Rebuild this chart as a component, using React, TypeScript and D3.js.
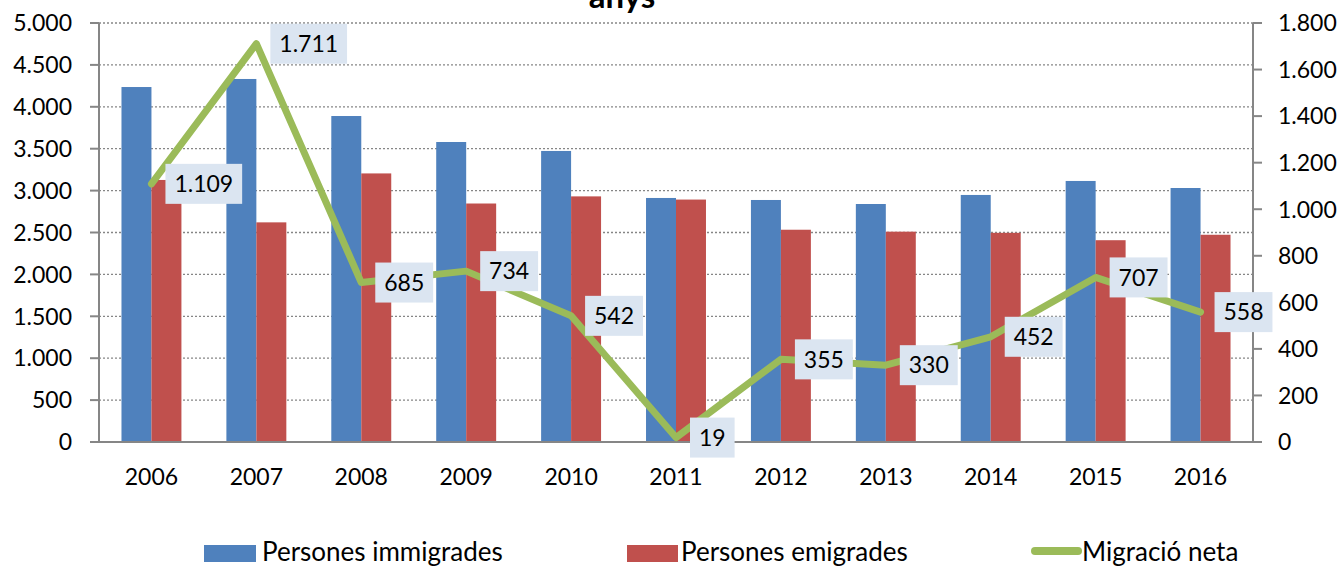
import React from "react";
import * as d3 from "d3";

// dades (llegides del gràfic)
const years = ["2006", "2007", "2008", "2009", "2010", "2011", "2012", "2013", "2014", "2015", "2016"];
const immigrades = [4236, 4332, 3890, 3580, 3473, 2912, 2888, 2840, 2948, 3115, 3031];
const emigrades = [3127, 2621, 3205, 2846, 2931, 2893, 2533, 2510, 2496, 2408, 2473];
const netaMigracio = [1109, 1711, 685, 734, 542, 19, 355, 330, 452, 707, 558];
const leftTicks = [0, 500, 1000, 1500, 2000, 2500, 3000, 3500, 4000, 4500, 5000];
const rightTicks = [0, 200, 400, 600, 800, 1000, 1200, 1400, 1600, 1800];
const seriesNames = ["Persones immigrades", "Persones emigrades", "Migració neta"];

const BLUE = "#4F81BD";
const RED = "#C0504D";
const GREEN = "#9BBB59";
const AXIS = "#868686";
const FONT = "Lato, 'Noto Sans', sans-serif";

const fmt = (v: number) => d3.format(",")(v).replace(/,/g, ".");

export default function App() {
  const width = 1341,
    height = 568;
  const left = 99,
    right = 1253,
    top = 23,
    bottom = 442;

  const x0 = d3
    .scaleBand()
    .domain(years)
    .range([left, right])
    .paddingInner(0.4286)
    .paddingOuter(0.2143);
  const x1 = d3.scaleBand().domain(["imm", "emi"]).range([0, x0.bandwidth()]);
  const yL = d3.scaleLinear().domain([0, 5000]).range([bottom, top]);
  const yR = d3.scaleLinear().domain([0, 1800]).range([bottom, top]);

  const cx = (y: string) => (x0(y) as number) + x0.bandwidth() / 2;

  const line = d3
    .line<number>()
    .x((_, i) => cx(years[i]))
    .y((d) => yR(d));

  // amplada aproximada del text de les etiquetes
  const labelWidth = (s: string) =>
    s.split("").reduce((a, c) => a + (c === "." ? 5.5 : 13.3), 0);

  return (
    <svg width={width} height={height} style={{ position: "absolute", left: 0, top: 0 }}>
      <rect width={width} height={height} fill="white" />

      {/* títol (tallat, com a l'original) */}
      <text x={622} y={8} textAnchor="middle" fontFamily={FONT} fontWeight="bold" fontSize={33}>
        anys
      </text>

      {/* graella */}
      {leftTicks.slice(1).map((t) => (
        <line
          key={"g" + t}
          x1={left}
          x2={right}
          y1={yL(t)}
          y2={yL(t)}
          stroke={AXIS}
          strokeWidth={1.3}
          strokeDasharray="2,2"
        />
      ))}

      {/* barres */}
      {years.map((yr, i) => (
        <g key={"b" + yr}>
          <rect
            x={(x0(yr) as number) + (x1("imm") as number)}
            y={yL(immigrades[i])}
            width={x1.bandwidth()}
            height={bottom - yL(immigrades[i])}
            fill={BLUE}
          />
          <rect
            x={(x0(yr) as number) + (x1("emi") as number)}
            y={yL(emigrades[i])}
            width={x1.bandwidth()}
            height={bottom - yL(emigrades[i])}
            fill={RED}
          />
        </g>
      ))}

      {/* eixos */}
      <line x1={left} x2={left} y1={top} y2={bottom} stroke={AXIS} strokeWidth={2} />
      <line x1={right} x2={right} y1={top} y2={bottom} stroke={AXIS} strokeWidth={2} />
      <line x1={left - 9} x2={right + 9} y1={bottom} y2={bottom} stroke={AXIS} strokeWidth={2} />
      {leftTicks.map((t) => (
        <g key={"l" + t}>
          <line x1={left - 9} x2={left} y1={yL(t)} y2={yL(t)} stroke={AXIS} strokeWidth={2} />
          <text
            x={72}
            y={yL(t)}
            dy="0.36em"
            textAnchor="end"
            fontFamily={FONT}
            fontSize={23}
            fill="#000"
          >
            {fmt(t)}
          </text>
        </g>
      ))}
      {rightTicks.map((t) => (
        <g key={"r" + t}>
          <line x1={right} x2={right + 9} y1={yR(t)} y2={yR(t)} stroke={AXIS} strokeWidth={2} />
          <text x={1278} y={yR(t)} dy="0.36em" fontFamily={FONT} fontSize={23} fill="#000">
            {fmt(t)}
          </text>
        </g>
      ))}
      {years.map((yr) => (
        <text key={"x" + yr} x={cx(yr)} y={485} textAnchor="middle" fontFamily={FONT} fontSize={23}>
          {yr}
        </text>
      ))}

      {/* línia de migració neta */}
      <path
        d={line(netaMigracio) || ""}
        fill="none"
        stroke={GREEN}
        strokeWidth={7}
        strokeLinejoin="round"
        strokeLinecap="round"
      />

      {/* etiquetes */}
      {netaMigracio.map((v, i) => {
        const s = fmt(v);
        const w = labelWidth(s) + 18;
        const px = cx(years[i]) + 14;
        const py = yR(v);
        return (
          <g key={"lab" + i}>
            <rect x={px} y={py - 20} width={w} height={40} fill="#DBE5F1" />
            <text
              x={px + w / 2}
              y={py}
              dy="0.36em"
              textAnchor="middle"
              fontFamily={FONT}
              fontSize={23}
            >
              {s}
            </text>
          </g>
        );
      })}

      {/* llegenda */}
      <rect x={204} y={545} width={52} height={17} fill={BLUE} />
      <text x={262} y={561} fontFamily={FONT} fontSize={26}>
        {seriesNames[0]}
      </text>
      <rect x={627} y={545} width={51} height={17} fill={RED} />
      <text x={681} y={561} fontFamily={FONT} fontSize={26}>
        {seriesNames[1]}
      </text>
      <line x1={1035} x2={1078} y1={551} y2={551} stroke={GREEN} strokeWidth={8} strokeLinecap="round" />
      <text x={1082} y={561} fontFamily={FONT} fontSize={26}>
        {seriesNames[2]}
      </text>
    </svg>
  );
}
